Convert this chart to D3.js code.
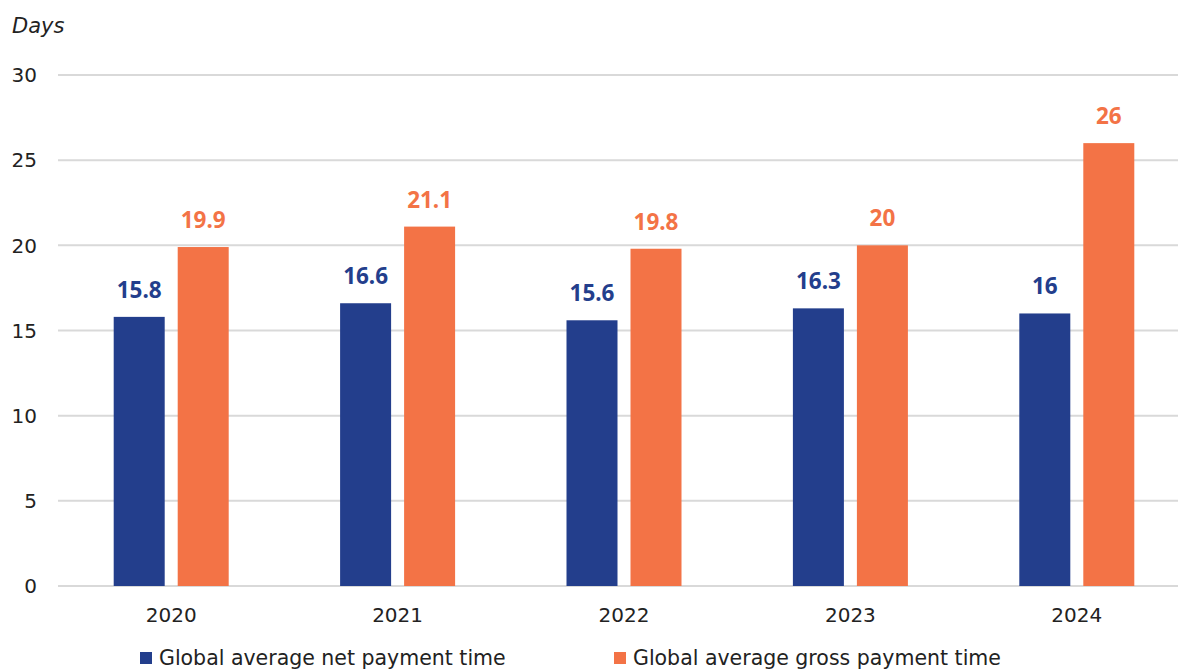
<!DOCTYPE html>
<html>
<head>
<meta charset="utf-8">
<script src="https://cdn.jsdelivr.net/npm/d3@7"></script>
<style>
  html, body { margin: 0; padding: 0; background: #fff; }
  svg { display: block; font-family: "DejaVu Sans", "Noto Sans", sans-serif; }
</style>
</head>
<body>
<svg id="chart" width="1178" height="671"></svg>
<script>
// Payment time data (days)
const years = ["2020", "2021", "2022", "2023", "2024"];
const netPayment = [15.8, 16.6, 15.6, 16.3, 16];
const grossPayment = [19.9, 21.1, 19.8, 20, 26];
const yTicks = [0, 5, 10, 15, 20, 25, 30];
const seriesNames = ["Global average net payment time", "Global average gross payment time"];
const seriesColors = ["#233e8c", "#f37346"];

const svg = d3.select("#chart");

const x = d3.scaleBand().domain(years).range([58, 1190]).padding(0);
const y = d3.scaleLinear().domain([0, 30]).range([586, 75]);

const barW = 51, gap = 13;

// Gridlines
svg.append("g")
  .selectAll("line")
  .data(yTicks)
  .join("line")
  .attr("x1", 58).attr("x2", 1178)
  .attr("y1", d => y(d)).attr("y2", d => y(d))
  .attr("stroke", "#d9d9d9").attr("stroke-width", 2);

// Y tick labels
svg.append("g")
  .selectAll("text")
  .data(yTicks)
  .join("text")
  .attr("x", 37).attr("y", d => y(d))
  .attr("dy", "0.36em")
  .attr("text-anchor", "end")
  .attr("font-size", 20)
  .attr("fill", "#222")
  .text(d => d);

// Axis title
svg.append("text")
  .attr("x", 12).attr("y", 33)
  .attr("font-size", 21).attr("font-style", "italic")
  .attr("fill", "#222")
  .text("Days");

const series = [netPayment, grossPayment];
series.forEach((vals, si) => {
  const offset = si === 0 ? -(gap / 2 + barW) : gap / 2;
  const g = svg.append("g");
  g.selectAll("rect")
    .data(vals)
    .join("rect")
    .attr("x", (d, i) => x(years[i]) + x.bandwidth() / 2 + offset)
    .attr("y", d => y(d))
    .attr("width", barW)
    .attr("height", d => y(0) - y(d))
    .attr("fill", seriesColors[si]);
  g.selectAll("text")
    .data(vals)
    .join("text")
    .attr("x", (d, i) => x(years[i]) + x.bandwidth() / 2 + offset + barW / 2)
    .attr("y", d => y(d) - 19)
    .attr("text-anchor", "middle")
    .attr("font-family", "'Noto Sans', sans-serif")
    .attr("font-size", 22.5).attr("font-weight", "bold")
    .attr("fill", seriesColors[si])
    .text(d => d);
});

// Category labels
svg.append("g")
  .selectAll("text")
  .data(years)
  .join("text")
  .attr("x", d => x(d) + x.bandwidth() / 2)
  .attr("y", 622)
  .attr("text-anchor", "middle")
  .attr("font-size", 20)
  .attr("fill", "#222")
  .text(d => d);

// Legend
const legendX = [140, 614];
const legend = svg.append("g")
  .selectAll("g")
  .data(seriesNames)
  .join("g")
  .attr("transform", (d, i) => `translate(${legendX[i]},665)`);
legend.append("rect")
  .attr("x", 0).attr("y", -13)
  .attr("width", 12).attr("height", 12)
  .attr("fill", (d, i) => seriesColors[i]);
legend.append("text")
  .attr("x", 19).attr("y", 0)
  .attr("font-size", 20.5)
  .attr("fill", "#222")
  .text(d => d);
</script>
</body>
</html>
